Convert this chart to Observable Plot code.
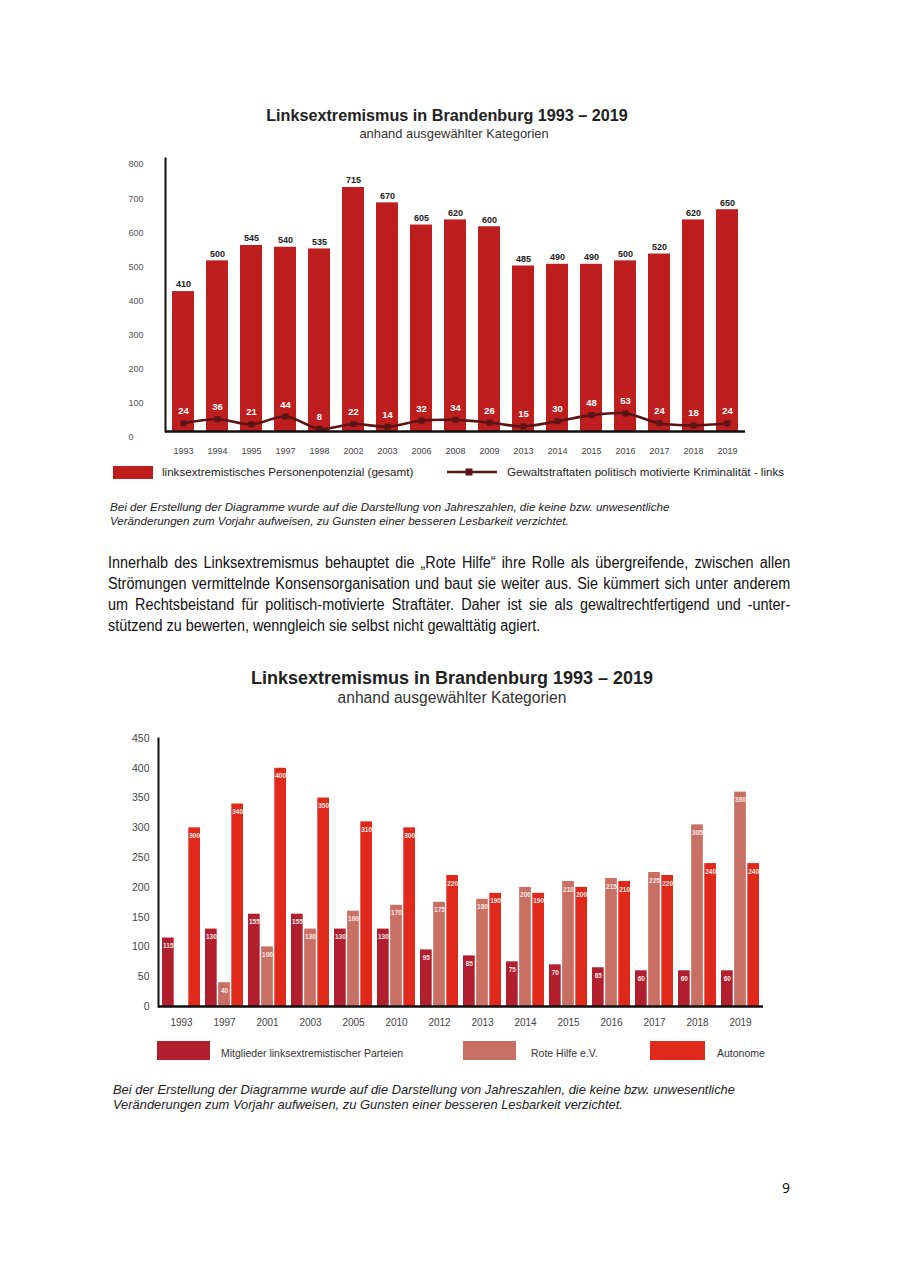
<!DOCTYPE html>
<html>
<head>
<meta charset="utf-8">
<script src="https://cdn.jsdelivr.net/npm/d3@7"></script>
<script src="https://cdn.jsdelivr.net/npm/@observablehq/plot@0.6"></script>
<style>
  html, body { margin: 0; padding: 0; background: #fff; }
  #page { position: relative; width: 900px; height: 1272px; background: #fff; font-family: "Liberation Sans", Arial, sans-serif; color: #222; overflow: hidden; }
  .abs { position: absolute; white-space: nowrap; }
  .title { font-weight: bold; color: #222; text-align: center; }
  .sub { color: #333; text-align: center; }
  .note { font-style: italic; color: #222; }
  .para { position: absolute; left: 108px; top: 552px; width: 758px; transform: scaleX(0.9); transform-origin: left top; font-family: "Liberation Sans", Arial, sans-serif; font-size: 16px; line-height: 21px; color: #111; }
  .para div { text-align: justify; text-align-last: justify; white-space: nowrap; }
  .para div.last { text-align-last: left; }
</style>
</head>
<body>
<div id="page">
  <div class="abs title" style="left:0;width:894px;top:106px;font-size:16.2px;">Linksextremismus in Brandenburg 1993 – 2019</div>
  <div class="abs sub" style="left:0;width:908px;top:126px;font-size:12.9px;">anhand ausgewählter Kategorien</div>
  <div id="chart1" class="abs" style="left:100px;top:150px;"></div>

  <div class="abs" style="left:113px;top:466px;width:40px;height:13px;background:#bf1e1e;"></div>
  <div class="abs" style="left:162px;top:465px;font-size:11.6px;color:#222;">linksextremistisches Personenpotenzial (gesamt)</div>
  <svg class="abs" style="left:447px;top:466px;" width="50" height="12"><line x1="0" y1="6" x2="50" y2="6" stroke="#5a1414" stroke-width="2.5"/><rect x="18.5" y="2.5" width="7" height="7" fill="#5a1414"/></svg>
  <div class="abs" style="left:507px;top:465px;font-size:11.6px;color:#222;">Gewaltstraftaten politisch motivierte Kriminalität - links</div>

  <div class="abs note" style="left:110px;top:500px;font-size:11.6px;line-height:14px;">Bei der Erstellung der Diagramme wurde auf die Darstellung von Jahreszahlen, die keine bzw. unwesentliche<br>Veränderungen zum Vorjahr aufweisen, zu Gunsten einer besseren Lesbarkeit verzichtet.</div>

  <div class="para">
    <div>Innerhalb des Linksextremismus behauptet die „Rote Hilfe“ ihre Rolle als übergreifende, zwischen allen</div>
    <div>Strömungen vermittelnde Konsensorganisation und baut sie weiter aus. Sie kümmert sich unter anderem</div>
    <div>um Rechtsbeistand für politisch-motivierte Straftäter. Daher ist sie als gewaltrechtfertigend und -unter-</div>
    <div class="last">stützend zu bewerten, wenngleich sie selbst nicht gewalttätig agiert.</div>
  </div>

  <div class="abs title" style="left:0;width:904px;top:668px;font-size:18px;">Linksextremismus in Brandenburg 1993 – 2019</div>
  <div class="abs sub" style="left:0;width:904px;top:689px;font-size:15.6px;">anhand ausgewählter Kategorien</div>
  <div id="chart2" class="abs" style="left:100px;top:730px;"></div>

  <div class="abs" style="left:157px;top:1041px;width:53px;height:19px;background:#b11f2f;"></div>
  <div class="abs" style="left:221px;top:1047px;font-size:10.5px;color:#333;">Mitglieder linksextremistischer Parteien</div>
  <div class="abs" style="left:463px;top:1041px;width:53px;height:19px;background:#c97064;"></div>
  <div class="abs" style="left:531px;top:1047px;font-size:10.5px;color:#333;">Rote Hilfe e.V.</div>
  <div class="abs" style="left:650px;top:1041px;width:55px;height:19px;background:#e0291b;"></div>
  <div class="abs" style="left:717px;top:1047px;font-size:10.5px;color:#333;">Autonome</div>

  <div class="abs note" style="left:113px;top:1082px;font-size:12.9px;line-height:15px;">Bei der Erstellung der Diagramme wurde auf die Darstellung von Jahreszahlen, die keine bzw. unwesentliche<br>Veränderungen zum Vorjahr aufweisen, zu Gunsten einer besseren Lesbarkeit verzichtet.</div>

  <div class="abs" style="left:782px;top:1178px;font-size:14px;font-family:'Noto Sans',sans-serif;color:#111;">9</div>
</div>
<script>
// ---------- Chart 1 data ----------
const years1 = ["1993","1994","1995","1997","1998","2002","2003","2006","2008","2009","2013","2014","2015","2016","2017","2018","2019"];
const personenpotenzial = [410,500,545,540,535,715,670,605,620,600,485,490,490,500,520,620,650];
const gewaltstraftaten = [24,36,21,44,8,22,14,32,34,26,15,30,48,53,24,18,24];
const yTicks1 = [0,100,200,300,400,500,600,700,800];

// ---------- Chart 2 data ----------
const years2 = ["1993","1997","2001","2003","2005","2010","2012","2013","2014","2015","2016","2017","2018","2019"];
const mitglieder = [115,130,155,155,130,130,95,85,75,70,65,60,60,60];
const roteHilfe = [null,40,100,130,160,170,175,180,200,210,215,225,305,360];
const autonome = [300,340,400,350,310,300,220,190,190,200,210,220,240,240];
const yTicks2 = [0,50,100,150,200,250,300,350,400,450];

const rows1 = years1.map((year, i) => ({year, p: personenpotenzial[i], g: gewaltstraftaten[i]}));
const rows2 = years2.map((year, i) => ({year, m: mitglieder[i], r: roteHilfe[i], a: autonome[i]}));

const font = "'Liberation Sans', Arial, sans-serif";

const c1 = Plot.plot({
  width: 700, height: 315,
  marginLeft: 65, marginRight: 55, marginTop: 8, marginBottom: 34,
  style: {fontFamily: font, background: "transparent", overflow: "visible"},
  x: {domain: years1, paddingInner: 0.36, paddingOuter: 0.18, label: null},
  y: {domain: [0, 800], label: null},
  marks: [
    Plot.barY(rows1, {x: "year", y: "p", fill: "#bf1e1e"}),
    Plot.text(rows1, {x: "year", y: "p", text: d => String(d.p), dy: -7, fontWeight: "bold", fontSize: 9, fill: "#222"}),
    Plot.line(rows1, {x: "year", y: "g", stroke: "#5a1414", strokeWidth: 2.6, curve: "catmull-rom"}),
    Plot.dot(rows1, {x: "year", y: "g", symbol: "square", r: 3.4, fill: "#5a1414"}),
    Plot.text(rows1, {x: "year", y: "g", text: d => String(d.g), dy: -12, fill: "white", fontWeight: "bold", fontSize: 9.5}),
    Plot.axisX({tickSize: 0, tickPadding: 16, fontSize: 9, color: "#444"}),
    Plot.axisY({ticks: yTicks1, tickSize: 0, tickPadding: 0, textAnchor: "start", dx: -37, dy: 6, fontSize: 9, color: "#555"}),
    Plot.ruleY([0], {stroke: "#111", strokeWidth: 2.5}),
    Plot.frame({anchor: "left", stroke: "#111", strokeWidth: 2})
  ]
});
document.getElementById("chart1").appendChild(c1);

const bw = 38.46, gap = 1, barW = (bw - 2 * gap) / 3;
const c2 = Plot.plot({
  width: 700, height: 310,
  marginLeft: 58, marginRight: 37, marginTop: 8, marginBottom: 34,
  style: {fontFamily: font, background: "transparent", overflow: "visible"},
  x: {domain: years2, paddingInner: 0.11, paddingOuter: 0.055, label: null},
  y: {domain: [0, 450], label: null},
  marks: [
    Plot.barY(rows2, {x: "year", y: "m", fill: "#b11f2f", insetRight: 2 * barW + 2 * gap}),
    Plot.barY(rows2.filter(d => d.r != null), {x: "year", y: "r", fill: "#c97064", insetLeft: barW + gap, insetRight: barW + gap}),
    Plot.barY(rows2, {x: "year", y: "a", fill: "#e0291b", insetLeft: 2 * barW + 2 * gap}),
    Plot.text(rows2, {x: "year", y: "m", text: d => String(d.m), dx: -(barW + gap), dy: 8, fill: "#fbe9e9", fontWeight: "bold", fontSize: 6.5}),
    Plot.text(rows2.filter(d => d.r != null), {x: "year", y: "r", text: d => String(d.r), dy: 8, fill: "#fbe9e9", fontWeight: "bold", fontSize: 6.5}),
    Plot.text(rows2, {x: "year", y: "a", text: d => String(d.a), dx: barW + gap, dy: 8, fill: "#fbe9e9", fontWeight: "bold", fontSize: 6.5}),
    Plot.axisX({tickSize: 0, tickPadding: 12, fontSize: 10, color: "#444"}),
    Plot.axisY({ticks: yTicks2, tickSize: 0, tickPadding: 9, fontSize: 10.5, color: "#444"}),
    Plot.ruleY([0], {stroke: "#111", strokeWidth: 2.5}),
    Plot.frame({anchor: "left", stroke: "#111", strokeWidth: 2})
  ]
});
document.getElementById("chart2").appendChild(c2);
</script>
</body>
</html>
